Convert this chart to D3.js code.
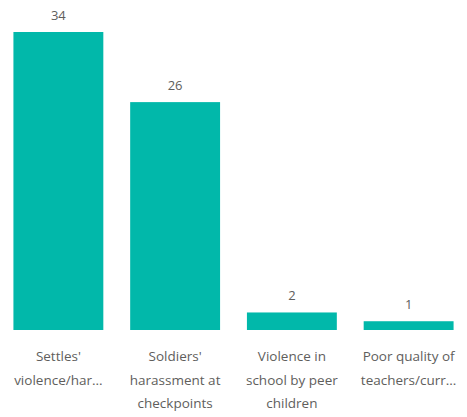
<!DOCTYPE html>
<html><head><meta charset="utf-8">
<script src="https://cdn.jsdelivr.net/npm/d3@7"></script>
<style>body{margin:0;background:#fff;} svg{display:block;}</style>
</head><body>
<svg id="chart" width="467" height="417"></svg>
<script>
const categories = ["Settles' violence/har...", "Soldiers' harassment at checkpoints", "Violence in school by peer children", "Poor quality of teachers/curr..."];
const labelLines = [["Settles'", "violence/har..."], ["Soldiers'", "harassment at", "checkpoints"], ["Violence in", "school by peer", "children"], ["Poor quality of", "teachers/curr..."]];
const values = [34, 26, 2, 1];

const svg = d3.select("#chart");
const W = 467, H = 417;
const baseY = 330, topY = 32;
const x = d3.scaleBand().domain(categories).range([0, W]).paddingInner(0.23).paddingOuter(0.115);
const y = d3.scaleLinear().domain([0, 34]).range([baseY, topY]);
const font = "'Open Sans', 'Segoe UI', sans-serif";
const textColor = "#605E5C";

svg.selectAll("rect.bar").data(values).join("rect")
  .attr("class", "bar")
  .attr("x", (d, i) => x(categories[i]))
  .attr("width", x.bandwidth())
  .attr("y", d => y(d))
  .attr("height", d => baseY - y(d))
  .attr("fill", "#01B8AA");

svg.selectAll("text.val").data(values).join("text")
  .attr("class", "val")
  .attr("x", (d, i) => x(categories[i]) + x.bandwidth() / 2)
  .attr("y", d => y(d) - 12)
  .attr("text-anchor", "middle")
  .attr("font-family", font)
  .attr("font-size", 13)
  .attr("fill", textColor)
  .text(d => d);

const g = svg.selectAll("g.lab").data(categories).join("g").attr("class", "lab");
g.each(function (c, i) {
  const t = d3.select(this).append("text")
    .attr("text-anchor", "middle")
    .attr("font-family", font)
    .attr("font-size", 13.5)
    .attr("fill", textColor);
  labelLines[i].forEach((ln, j) => {
    t.append("tspan")
      .attr("x", x(c) + x.bandwidth() / 2)
      .attr("y", 361 + j * 23.5)
      .text(ln);
  });
});
</script>
</body></html>
